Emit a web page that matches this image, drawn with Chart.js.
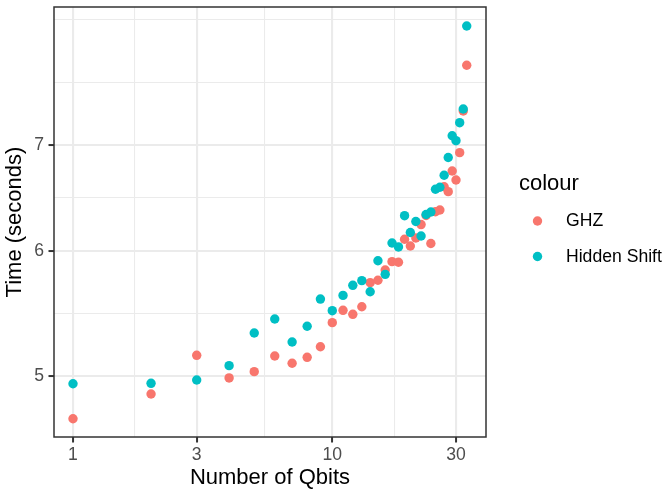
<!DOCTYPE html>
<html>
<head>
<meta charset="utf-8">
<script src="https://cdn.jsdelivr.net/npm/chart.js@4.4.1/dist/chart.umd.min.js"></script>
<style>
html,body{margin:0;padding:0;background:#ffffff;}
#wrap{width:663px;height:491px;}
canvas{display:block;}
</style>
</head>
<body>
<div id="wrap"><canvas id="c" width="663" height="491"></canvas></div>
<script>
// ---- data ----
const qbits = [1,2,3,4,5,6,7,8,9,10,11,12,13,14,15,16,17,18,19,20,21,22,23,24,25,26,27,28,29,30,31,32,33];
const ghzTimes = [4.698,4.871,5.153,4.986,5.032,5.148,5.094,5.138,5.218,5.404,5.502,5.470,5.531,5.728,5.748,5.835,5.906,5.901,6.102,6.042,6.113,6.234,6.317,6.064,6.352,6.368,6.587,6.540,6.740,6.652,6.922,7.355,7.862];
const hiddenShiftTimes = [4.944,4.947,4.971,5.076,5.323,5.433,5.254,5.376,5.593,5.499,5.623,5.706,5.745,5.653,5.914,5.798,6.069,6.034,6.315,6.162,6.262,6.131,6.326,6.349,6.563,6.582,6.698,6.874,7.095,7.044,7.231,7.377,8.325];
const seriesNames = ['GHZ', 'Hidden Shift'];
const xMajorTicks = [1, 3, 10, 30];
const xMinorTicks = [1.7321, 5.4772, 17.3205];
const yMajorTicks = [5, 6, 7];
const yMinorTicks = [5.4772, 6.4807, 7.6681, 8.4];
const xTitle = 'Number of Qbits';
const yTitle = 'Time (seconds)';
const legendTitle = 'colour';

// ---- styles ----
const seriesColors = ['#F8766D', '#00BFC4'];
const FONT = "'Liberation Sans', Arial, Helvetica, sans-serif";
const GRID = '#EBEBEB';
const DARK = '#333333';

const isIn = (list, v) => list.some(m => Math.abs(m - v) < 1e-6);
function setTicks(scale, majors, minors) {
  scale.ticks = majors.concat(minors).sort((a, b) => a - b).map(v => ({ value: v }));
}
function pts(ys) { return qbits.map((q, i) => ({ x: q, y: ys[i] })); }

const borderPlugin = {
  id: 'panelBorder',
  afterDatasetsDraw(chart) {
    const a = chart.chartArea, ctx = chart.ctx;
    ctx.save();
    ctx.strokeStyle = DARK;
    ctx.lineWidth = 1.5;
    ctx.strokeRect(a.left, a.top, a.right - a.left, a.bottom - a.top);
    ctx.restore();
  }
};

const legendPlugin = {
  id: 'ggLegend',
  afterDraw(chart) {
    const ctx = chart.ctx;
    ctx.save();
    ctx.fillStyle = '#000000';
    ctx.textBaseline = 'middle';
    ctx.textAlign = 'left';
    ctx.font = '22px ' + FONT;
    ctx.fillText(legendTitle, 519, 184);
    ctx.font = '17.6px ' + FONT;
    const rows = [221, 256.5];
    seriesNames.forEach((name, i) => {
      ctx.fillStyle = seriesColors[i];
      ctx.beginPath();
      ctx.arc(537.5, rows[i], 4.7, 0, Math.PI * 2);
      ctx.fill();
      ctx.fillStyle = '#000000';
      ctx.fillText(name, 566, rows[i] + 0.5);
    });
    ctx.restore();
  }
};

new Chart(document.getElementById('c'), {
  type: 'scatter',
  data: {
    datasets: [
      { label: seriesNames[0], data: pts(ghzTimes), backgroundColor: seriesColors[0], borderColor: seriesColors[0], order: 1 },
      { label: seriesNames[1], data: pts(hiddenShiftTimes), backgroundColor: seriesColors[1], borderColor: seriesColors[1], order: 0 }
    ]
  },
  options: {
    responsive: false,
    animation: false,
    devicePixelRatio: 1,
    layout: { padding: { top: 7, right: 177, left: 0, bottom: 0 } },
    elements: { point: { radius: 4.7, borderWidth: 0, hoverRadius: 4.7 } },
    plugins: { legend: { display: false }, tooltip: { enabled: false } },
    events: [],
    scales: {
      x: {
        type: 'logarithmic',
        position: 'bottom',
        min: 0.8448,
        max: 39.16,
        afterBuildTicks: s => setTicks(s, xMajorTicks, xMinorTicks),
        afterFit: s => { s.height = 54; s.paddingLeft = 0; s.paddingRight = 0; },
        ticks: {
          autoSkip: false, maxRotation: 0, minRotation: 0, padding: 2.5,
          color: '#4D4D4D', font: { family: FONT, size: 17.6 },
          callback: v => isIn(xMajorTicks, v) ? String(v) : ''
        },
        grid: {
          color: GRID,
          lineWidth: c => (c.tick && isIn(xMajorTicks, c.tick.value)) ? 2.1 : 1.05,
          drawTicks: true, tickLength: 5.5, tickWidth: 2,
          tickColor: c => (c.tick && isIn(xMajorTicks, c.tick.value)) ? DARK : 'rgba(0,0,0,0)'
        },
        border: { display: false },
        title: { display: true, text: xTitle, color: '#000000', font: { family: FONT, size: 22 }, padding: { top: 0, bottom: 0 } }
      },
      y: {
        type: 'logarithmic',
        position: 'left',
        min: 4.575,
        max: 8.558,
        afterBuildTicks: s => setTicks(s, yMajorTicks, yMinorTicks),
        afterFit: s => { s.width = 54; s.paddingTop = 0; s.paddingBottom = 0; },
        ticks: {
          autoSkip: false, padding: 4.5,
          color: '#4D4D4D', font: { family: FONT, size: 17.6 },
          callback: v => isIn(yMajorTicks, v) ? String(v) : ''
        },
        grid: {
          color: GRID,
          lineWidth: c => (c.tick && isIn(yMajorTicks, c.tick.value)) ? 2.1 : 1.05,
          drawTicks: true, tickLength: 5.5, tickWidth: 2,
          tickColor: c => (c.tick && isIn(yMajorTicks, c.tick.value)) ? DARK : 'rgba(0,0,0,0)'
        },
        border: { display: false },
        title: { display: true, text: yTitle, color: '#000000', font: { family: FONT, size: 22 }, padding: { top: 2, bottom: 0 } }
      }
    }
  },
  plugins: [borderPlugin, legendPlugin]
});
</script>
</body>
</html>
